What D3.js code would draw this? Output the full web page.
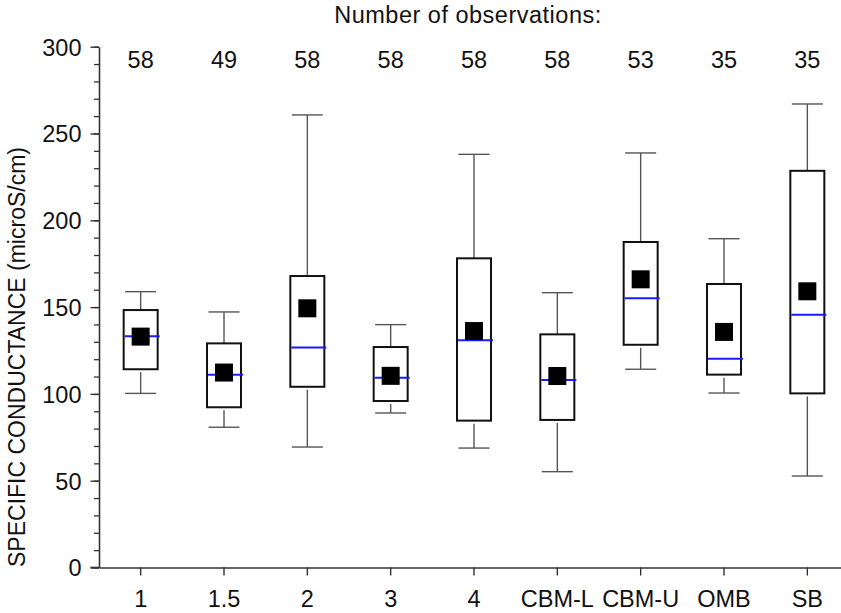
<!DOCTYPE html>
<html>
<head>
<meta charset="utf-8">
<script src="https://cdn.jsdelivr.net/npm/d3@7"></script>
<style>
  html, body { margin: 0; padding: 0; background: #fff; }
  svg { display: block; font-family: "Liberation Sans", Arial, sans-serif; }
</style>
</head>
<body>
<svg id="chart" width="841" height="613"></svg>
<script>
// Sampling stations and their conductance summaries (microS/cm)
const categories  = ["1", "1.5", "2", "3", "4", "CBM-L", "CBM-U", "OMB", "SB"];
const counts      = [58, 49, 58, 58, 58, 58, 53, 35, 35];
const whiskerLow  = [100.3, 80.8, 69.4, 89.0, 68.8, 55.2, 114.2, 100.5, 52.7];
const q1          = [114.2, 92.3, 104.1, 95.9, 84.6, 85.0, 128.3, 111.1, 100.3];
const medians     = [133.2, 111.1, 126.8, 109.3, 130.9, 108.0, 155.1, 120.3, 145.6];
const q3          = [148.3, 129.1, 167.9, 127.0, 178.1, 134.3, 187.5, 163.3, 228.5];
const whiskerHigh = [158.9, 147.2, 260.7, 139.9, 238.0, 158.3, 238.8, 189.4, 267.0];
const means       = [133.0, 112.3, 149.3, 110.4, 136.2, 110.3, 166.0, 135.7, 159.1];
const majorTicks  = [0, 50, 100, 150, 200, 250, 300];

(function () {
const svg = d3.select("#chart");
const plotL = 99, plotR = 849, plotT = 46.7, plotB = 567.5;
const fontSize = 23.5;

const x = d3.scaleBand().domain(categories).range([plotL, plotR]);
const y = d3.scaleLinear().domain([0, 300]).range([plotB, plotT]);
const cx = c => x(c) + x.bandwidth() / 2;

const boxW = 34, capW = 31, meanSize = 18;

const rows = categories.map((c, i) => ({
  c, n: counts[i], lo: whiskerLow[i], q1: q1[i], med: medians[i],
  q3: q3[i], hi: whiskerHigh[i], mean: means[i]
}));

// Minor y ticks
svg.append("g")
  .attr("transform", `translate(${plotL},0)`)
  .call(d3.axisLeft(y).tickValues(d3.range(0, 301, 10)).tickSize(5).tickSizeOuter(0).tickFormat(""))
  .call(g => g.select(".domain").remove())
  .call(g => g.selectAll("line").attr("stroke", "#333").attr("stroke-width", 1.3));

// Major y ticks + labels
svg.append("g")
  .attr("transform", `translate(${plotL},0)`)
  .call(d3.axisLeft(y).tickValues(majorTicks).tickSize(8.5).tickSizeOuter(0).tickPadding(9))
  .call(g => g.select(".domain").attr("stroke", "#333").attr("stroke-width", 1.6))
  .call(g => g.selectAll("line").attr("stroke", "#333").attr("stroke-width", 1.4))
  .call(g => g.selectAll("text")
    .attr("font-size", fontSize).attr("fill", "#111")
    .attr("font-family", "Liberation Sans, Arial, sans-serif")
    .attr("dy", "0.36em"));

// X axis
svg.append("g")
  .attr("transform", `translate(0,${plotB})`)
  .call(d3.axisBottom(x).tickSize(8).tickSizeOuter(0))
  .call(g => g.select(".domain").attr("stroke", "#333").attr("stroke-width", 1.6))
  .call(g => g.selectAll("line").attr("stroke", "#333").attr("stroke-width", 1.4))
  .call(g => g.selectAll("text")
    .attr("font-size", fontSize).attr("fill", "#111")
    .attr("font-family", "Liberation Sans, Arial, sans-serif")
    .attr("y", 39).attr("dy", 0));

// Extend the baseline to the left past the y axis
svg.append("line")
  .attr("x1", plotL - 8.5).attr("x2", plotL)
  .attr("y1", y(0)).attr("y2", y(0))
  .attr("stroke", "#333").attr("stroke-width", 1.6);

// Y axis title
svg.append("text")
  .attr("transform", `translate(25,357) rotate(-90)`)
  .attr("text-anchor", "middle")
  .attr("font-size", 23)
  .attr("fill", "#111")
  .text("SPECIFIC CONDUCTANCE (microS/cm)");

// Observation counts header
svg.append("text")
  .attr("x", 468).attr("y", 23)
  .attr("text-anchor", "middle")
  .attr("font-size", 23.5)
  .attr("letter-spacing", 0.5)
  .attr("fill", "#111")
  .text("Number of observations:");

svg.append("g").selectAll("text")
  .data(rows).join("text")
  .attr("x", d => cx(d.c)).attr("y", 68)
  .attr("text-anchor", "middle")
  .attr("font-size", fontSize)
  .attr("fill", "#111")
  .text(d => d.n);

// Boxes
const g = svg.append("g").selectAll("g").data(rows).join("g");

// whiskers
g.append("line")
  .attr("x1", d => cx(d.c)).attr("x2", d => cx(d.c))
  .attr("y1", d => y(d.hi)).attr("y2", d => y(d.q3))
  .attr("stroke", "#555").attr("stroke-width", 1.4);
g.append("line")
  .attr("x1", d => cx(d.c)).attr("x2", d => cx(d.c))
  .attr("y1", d => y(d.q1) + 3).attr("y2", d => y(d.lo))
  .attr("stroke", "#555").attr("stroke-width", 1.4);
// caps
g.append("line")
  .attr("x1", d => cx(d.c) - capW / 2).attr("x2", d => cx(d.c) + capW / 2)
  .attr("y1", d => y(d.hi)).attr("y2", d => y(d.hi))
  .attr("stroke", "#555").attr("stroke-width", 1.4);
g.append("line")
  .attr("x1", d => cx(d.c) - capW / 2).attr("x2", d => cx(d.c) + capW / 2)
  .attr("y1", d => y(d.lo)).attr("y2", d => y(d.lo))
  .attr("stroke", "#555").attr("stroke-width", 1.4);
// box
g.append("rect")
  .attr("x", d => cx(d.c) - boxW / 2)
  .attr("y", d => y(d.q3))
  .attr("width", boxW)
  .attr("height", d => y(d.q1) - y(d.q3))
  .attr("fill", "none")
  .attr("stroke", "#111").attr("stroke-width", 2);
// median
g.append("line")
  .attr("x1", d => cx(d.c) - boxW / 2 + 1).attr("x2", d => cx(d.c) + boxW / 2 + 2)
  .attr("y1", d => y(d.med)).attr("y2", d => y(d.med))
  .attr("stroke", "#1a1aff").attr("stroke-width", 2);
// mean
g.append("rect")
  .attr("x", d => cx(d.c) - meanSize / 2)
  .attr("y", d => y(d.mean) - meanSize / 2)
  .attr("width", meanSize).attr("height", meanSize)
  .attr("fill", "#000");
})();
</script>
</body>
</html>
